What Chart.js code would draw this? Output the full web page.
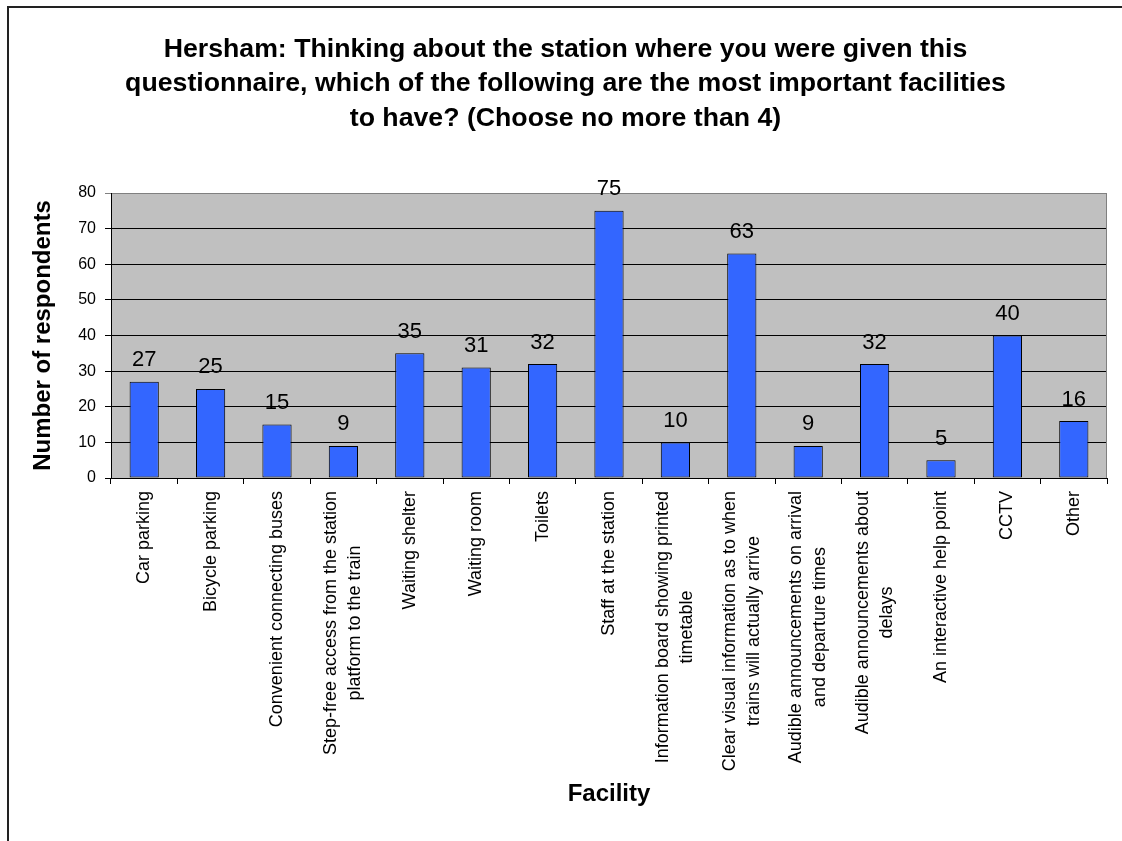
<!DOCTYPE html>
<html lang="en">
<head>
  <meta charset="UTF-8" />
  <title>Hersham - most important facilities</title>
  <script src="https://cdn.jsdelivr.net/npm/chart.js"></script>
  <style>
    html, body {
      margin: 0;
      padding: 0;
      background: #fff;
    }
    canvas {
      display: block;
    }
  </style>
</head>
<body>
  <canvas id="facilityChart" width="1122" height="841"></canvas>

  <script>
    // data
    const facilities = [
      'Car parking',
      'Bicycle parking',
      'Convenient connecting buses',
      ['Step-free access from the station', 'platform to the train'],
      'Waiting shelter',
      'Waiting room',
      'Toilets',
      'Staff at the station',
      ['Information board showing printed', 'timetable'],
      ['Clear visual information as to when', 'trains will actually arrive'],
      ['Audible announcements on arrival', 'and departure times'],
      ['Audible announcements about', 'delays'],
      'An interactive help point',
      'CCTV',
      'Other'
    ];
    const respondents = [27, 25, 15, 9, 35, 31, 32, 75, 10, 63, 9, 32, 5, 40, 16];
    const yTicks = [0, 10, 20, 30, 40, 50, 60, 70, 80];

    const FONT = 'Liberation Sans, Arial, sans-serif';

    const excelLook = {
      id: 'excelLook',
      beforeDraw(chart) {
        const { ctx, chartArea: a } = chart;
        ctx.save();
        ctx.fillStyle = '#fff';
        ctx.fillRect(0, 0, chart.width, chart.height);
        // outer frame (top + left only, the picture is cropped)
        ctx.strokeStyle = '#222';
        ctx.lineWidth = 2;
        ctx.beginPath();
        ctx.moveTo(8, chart.height);
        ctx.lineTo(8, 7);
        ctx.lineTo(chart.width, 7);
        ctx.stroke();
        // plot area
        ctx.fillStyle = '#c0c0c0';
        ctx.fillRect(a.left, a.top, a.right - a.left, a.bottom - a.top);
        ctx.restore();
      },
      afterDatasetsDraw(chart) {
        const { ctx, chartArea: a } = chart;
        const xScale = chart.scales.x;
        const meta = chart.getDatasetMeta(0);
        ctx.save();

        // right edge of plot area
        ctx.strokeStyle = '#808080';
        ctx.lineWidth = 1;
        ctx.beginPath();
        ctx.moveTo(a.right - 0.5, a.top);
        ctx.lineTo(a.right - 0.5, a.bottom);
        ctx.stroke();

        // value labels
        ctx.fillStyle = '#000';
        ctx.font = '22px ' + FONT;
        ctx.textAlign = 'center';
        ctx.textBaseline = 'alphabetic';
        meta.data.forEach((bar, i) => {
          ctx.fillText(respondents[i], bar.x, bar.y - 15.5);
        });

        // category labels, vertical, lines centred on each other
        ctx.font = '18px ' + FONT;
        facilities.forEach((lab, i) => {
          const lines = Array.isArray(lab) ? lab : [lab];
          const x = xScale.getPixelForValue(i);
          const maxW = Math.max(...lines.map(l => ctx.measureText(l).width));
          const cy = a.bottom + 13 + maxW / 2;
          lines.forEach((l, j) => {
            ctx.save();
            ctx.translate(x + (j - (lines.length - 1) / 2) * 24, cy);
            ctx.rotate(-Math.PI / 2);
            ctx.textAlign = 'center';
            ctx.textBaseline = 'middle';
            ctx.fillText(l, 0, 0);
            ctx.restore();
          });
        });
        ctx.restore();
      }
    };

    const ctx = document.getElementById('facilityChart').getContext('2d');
    new Chart(ctx, {
      type: 'bar',
      data: {
        labels: facilities,
        datasets: [{
          data: respondents,
          backgroundColor: '#3366ff',
          borderColor: '#000',
          borderWidth: 1,
          borderSkipped: false,
          categoryPercentage: 1,
          barPercentage: 0.44
        }]
      },
      plugins: [excelLook],
      options: {
        responsive: false,
        animation: false,
        layout: { padding: { left: 24, right: 15, top: 0, bottom: 0 } },
        plugins: {
          legend: { display: false },
          tooltip: { enabled: false },
          title: {
            display: true,
            text: [
              'Hersham: Thinking about the station where you were given this',
              'questionnaire, which of the following are the most important facilities',
              'to have? (Choose no more than 4)'
            ],
            color: '#000',
            font: { family: FONT, size: 26.7, weight: 'bold', lineHeight: 1.3 },
            padding: { top: 32, bottom: 56.9 }
          }
        },
        scales: {
          x: {
            offset: true,
            grid: {
              display: true,
              drawOnChartArea: false,
              drawTicks: true,
              tickLength: 6,
              color: '#000',
              offset: true
            },
            border: { display: true, color: '#000', width: 1 },
            ticks: { display: false },
            title: {
              display: true,
              text: 'Facility',
              color: '#000',
              font: { family: FONT, size: 24, weight: 'bold' },
              padding: { top: 0, bottom: 32 }
            },
            afterFit(scale) { scale.height = 363; }
          },
          y: {
            min: yTicks[0],
            max: yTicks[yTicks.length - 1],
            afterBuildTicks(scale) {
              scale.ticks = yTicks.map(v => ({ value: v }));
            },
            grid: {
              color: c => (c.tick && c.tick.value === 80 ? '#808080' : '#000'),
              lineWidth: 1,
              tickLength: 6
            },
            border: { display: true, color: '#000', width: 1 },
            ticks: {
              color: '#000',
              font: { family: FONT, size: 16 },
              padding: 9
            },
            title: {
              display: true,
              text: 'Number of respondents',
              color: '#000',
              font: { family: FONT, size: 24, weight: 'bold' },
              padding: { top: 4.6, bottom: 0 }
            },
            afterFit(scale) { scale.width = 87; }
          }
        }
      }
    });
  </script>
</body>
</html>
